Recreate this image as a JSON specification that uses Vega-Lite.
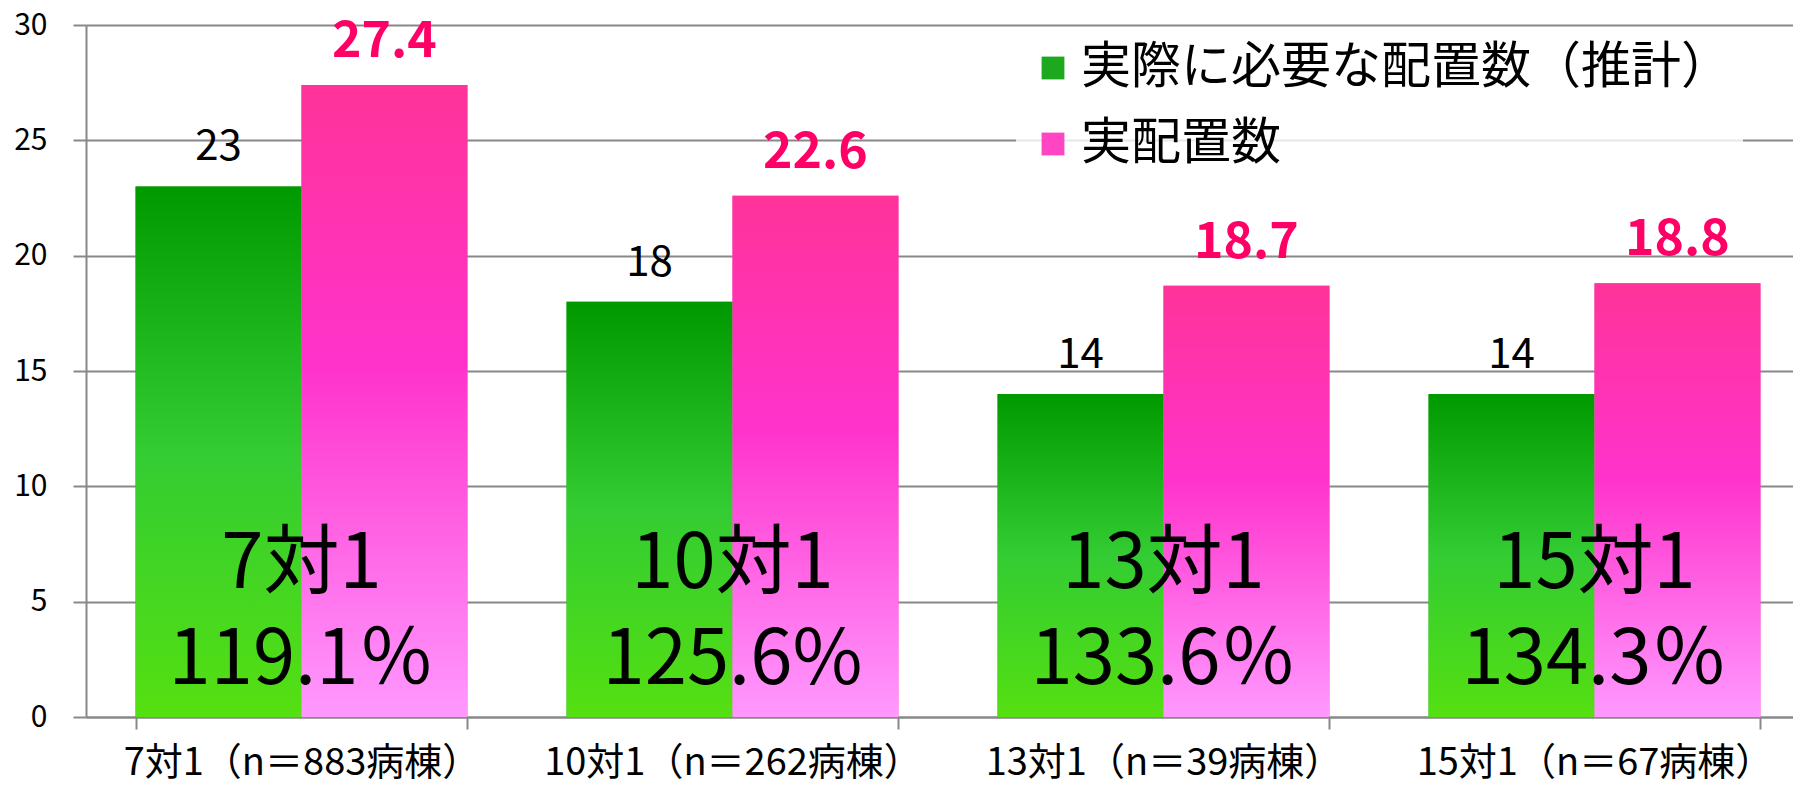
{
  "$schema": "https://vega.github.io/schema/vega-lite/v6.json",
  "autosize": "none",
  "width": 1707,
  "height": 692,
  "padding": {"left": 86, "top": 25, "right": 0, "bottom": 69},
  "background": "white",
  "config": {
    "font": "Noto Sans CJK JP",
    "view": {"stroke": null},
    "axis": {"labelFont": "Noto Sans CJK JP", "labelColor": "black"}
  },
  "datasets": {
    "bars": [
      {"category": "7対1（n＝883病棟）", "series": "実際に必要な配置数（推計）", "value": 23},
      {"category": "7対1（n＝883病棟）", "series": "実配置数", "value": 27.4},
      {"category": "10対1（n＝262病棟）", "series": "実際に必要な配置数（推計）", "value": 18},
      {"category": "10対1（n＝262病棟）", "series": "実配置数", "value": 22.6},
      {"category": "13対1（n＝39病棟）", "series": "実際に必要な配置数（推計）", "value": 14},
      {"category": "13対1（n＝39病棟）", "series": "実配置数", "value": 18.7},
      {"category": "15対1（n＝67病棟）", "series": "実際に必要な配置数（推計）", "value": 14},
      {"category": "15対1（n＝67病棟）", "series": "実配置数", "value": 18.8}
    ],
    "groups": [
      {"category": "7対1（n＝883病棟）", "label": "7対1\n119.1％"},
      {"category": "10対1（n＝262病棟）", "label": "10対1\n125.6%"},
      {"category": "13対1（n＝39病棟）", "label": "13対1\n133.6％"},
      {"category": "15対1（n＝67病棟）", "label": "15対1\n134.3％"}
    ]
  },
  "encoding": {
    "x": {
      "field": "category",
      "type": "nominal",
      "sort": null,
      "scale": {"range": [0, 1724], "paddingInner": 0.23, "paddingOuter": 0.115},
      "axis": {
        "title": null,
        "labelAngle": 0,
        "labelFontSize": 38,
        "labelPadding": 15,
        "labelLimit": 500,
        "domainColor": "#888888",
        "domainWidth": 2,
        "tickColor": "#888888",
        "tickWidth": 2,
        "tickSize": 12,
        "tickBand": "extent",
        "grid": false
      }
    }
  },
  "layer": [
    {
      "data": {"name": "bars"},
      "mark": {"type": "bar"},
      "encoding": {
        "xOffset": {"field": "series", "type": "nominal", "scale": {"domain": ["実際に必要な配置数（推計）", "実配置数"]}},
        "y": {
          "field": "value",
          "type": "quantitative",
          "scale": {"domain": [0, 30], "nice": false},
          "axis": {
            "title": null,
            "values": [0, 5, 10, 15, 20, 25, 30],
            "labelFontSize": 30,
            "labelPadding": 26,
            "grid": true,
            "gridColor": "#888888",
            "gridWidth": 2,
            "domainColor": "#888888",
            "domainWidth": 2,
            "tickColor": "#888888",
            "tickWidth": 2,
            "tickSize": 13
          }
        },
        "color": {
          "field": "series",
          "type": "nominal",
          "scale": {"domain": ["実際に必要な配置数（推計）", "実配置数"], "range": ["#1EA81E", "#FF44C4"]},
          "legend": {
            "title": null,
            "orient": "none",
            "legendX": 930,
            "legendY": 6,
            "padding": 12,
            "fillColor": "rgba(255,255,255,0.8)",
            "symbolType": "square",
            "symbolSize": 520,
            "symbolStrokeWidth": 0,
            "labelFontSize": 50,
            "labelFont": "Noto Sans CJK JP",
            "labelColor": "black",
            "labelLimit": 1000,
            "labelOffset": 3,
            "rowPadding": 26,
            "encode": {
              "symbols": {
                "update": {
                  "fill": {"signal": "datum.value === '実配置数' ? {gradient: 'linear', x1: 0, y1: 0, x2: 0, y2: 1, stops: [{offset: 0, color: '#FF3399'}, {offset: 1, color: '#FF99FF'}]} : {gradient: 'linear', x1: 0, y1: 0, x2: 0, y2: 1, stops: [{offset: 0, color: '#009900'}, {offset: 1, color: '#55E011'}]}"}
                }
              }
            }
          }
        }
      }
    },
    {
      "data": {"name": "bars"},
      "transform": [{"filter": "datum.series === '実際に必要な配置数（推計）'"}],
      "mark": {
        "type": "bar",
        "fill": {"gradient": "linear", "x1": 0, "y1": 0, "x2": 0, "y2": 1, "stops": [{"offset": 0, "color": "#009900"}, {"offset": 0.5, "color": "#33CC33"}, {"offset": 1, "color": "#55E011"}]}
      },
      "encoding": {
        "xOffset": {"field": "series", "type": "nominal", "scale": {"domain": ["実際に必要な配置数（推計）", "実配置数"]}},
        "y": {"field": "value", "type": "quantitative"}
      }
    },
    {
      "data": {"name": "bars"},
      "transform": [{"filter": "datum.series === '実配置数'"}],
      "mark": {
        "type": "bar",
        "fill": {"gradient": "linear", "x1": 0, "y1": 0, "x2": 0, "y2": 1, "stops": [{"offset": 0, "color": "#FF3399"}, {"offset": 0.45, "color": "#FF33CC"}, {"offset": 1, "color": "#FF99FF"}]}
      },
      "encoding": {
        "xOffset": {"field": "series", "type": "nominal", "scale": {"domain": ["実際に必要な配置数（推計）", "実配置数"]}},
        "y": {"field": "value", "type": "quantitative"}
      }
    },
    {
      "data": {"name": "bars"},
      "transform": [{"filter": "datum.series === '実際に必要な配置数（推計）'"}],
      "mark": {"type": "text", "fontSize": 42, "color": "black", "baseline": "alphabetic", "dy": -26},
      "encoding": {
        "xOffset": {"field": "series", "type": "nominal", "scale": {"domain": ["実際に必要な配置数（推計）", "実配置数"]}},
        "y": {"field": "value", "type": "quantitative"},
        "text": {"field": "value", "type": "quantitative"}
      }
    },
    {
      "data": {"name": "bars"},
      "transform": [{"filter": "datum.series === '実配置数'"}],
      "mark": {"type": "text", "fontSize": 50, "fontWeight": "bold", "color": "#FF0066", "baseline": "alphabetic", "dy": -28},
      "encoding": {
        "xOffset": {"field": "series", "type": "nominal", "scale": {"domain": ["実際に必要な配置数（推計）", "実配置数"]}},
        "y": {"field": "value", "type": "quantitative"},
        "text": {"field": "value", "type": "quantitative", "format": ".1f"}
      }
    },
    {
      "data": {"name": "groups"},
      "mark": {"type": "text", "fontSize": 76, "color": "black", "baseline": "alphabetic", "lineBreak": "\n", "lineHeight": 96},
      "encoding": {
        "y": {"datum": 5.6, "type": "quantitative"},
        "text": {"field": "label"}
      }
    }
  ]
}
